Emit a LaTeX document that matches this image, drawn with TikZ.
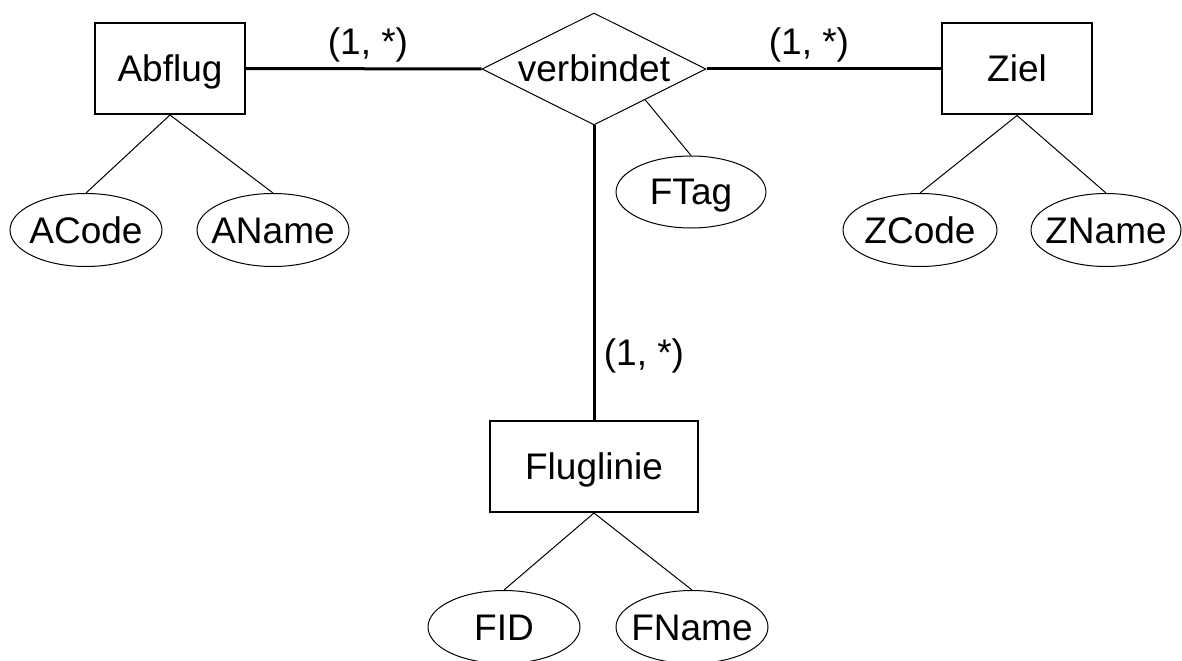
\documentclass[tikz,border=0pt]{standalone}
\usepackage{fontspec}
\setmainfont{Liberation Sans}
\usetikzlibrary{shapes.geometric,calc}
\begin{document}
\begin{tikzpicture}[x=1bp,y=-1bp,
  every node/.style={font=\fontsize{37bp}{44bp}\selectfont, text height=26bp, text depth=0bp, inner sep=0pt},
  entity/.style={draw, line width=2bp, minimum width=150bp, minimum height=91bp},
  attr/.style={draw, ellipse, line width=1bp, inner xsep=-20bp, minimum width=152bp, minimum height=73bp},
  rel/.style={draw, diamond, aspect=2, line width=1bp, minimum width=224bp, minimum height=112bp},
  relline/.style={line width=3bp},
  attrline/.style={line width=1bp},
  card/.style={}]
\useasboundingbox (0,0) rectangle (1182,661);
% entities
\node[entity] (abflug) at (170,68.5) {Abflug};
\node[entity] (ziel) at (1017,69) {Ziel};
\node[entity, minimum width=208bp] (flug) at (594,466.5) {Fluglinie};
% relationship
\node[rel] (verb) at (594,69) {verbindet};
% attributes
\node[attr] (acode) at (86,230) {ACode};
\node[attr] (aname) at (273,230) {AName};
\node[attr, minimum width=150bp, minimum height=72bp] (ftag) at (691,192) {FTag};
\node[attr, minimum width=154bp] (zcode) at (920,230) {ZCode};
\node[attr, minimum width=150bp] (zname) at (1106,230) {ZName};
\node[attr] (fid) at (504,627) {FID};
\node[attr] (fname) at (692,627) {FName};
% cardinalities
\node[card] (c1) at (368,42) {(1, *)};
\node[card] (c2) at (809,42) {(1, *)};
\node[card] (c3) at (644,352) {(1, *)};
% relationship lines
\draw[relline] (abflug.east) -- (verb.west);
\draw[relline] (verb.east) -- (ziel.west);
\draw[relline] (verb.south) -- (flug.north);
% attribute lines
\draw[attrline] (abflug.south) -- (acode.north);
\draw[attrline] (abflug.south) -- (aname.north);
\draw[attrline] (ziel.south) -- (zcode.north);
\draw[attrline] (ziel.south) -- (zname.north);
\draw[attrline] (flug.south) -- (fid.north);
\draw[attrline] (flug.south) -- (fname.north);
\coordinate (vft) at ($(verb.east)!0.545!(verb.south)$);
\draw[attrline] (vft) -- (ftag.north);
\end{tikzpicture}
\end{document}
